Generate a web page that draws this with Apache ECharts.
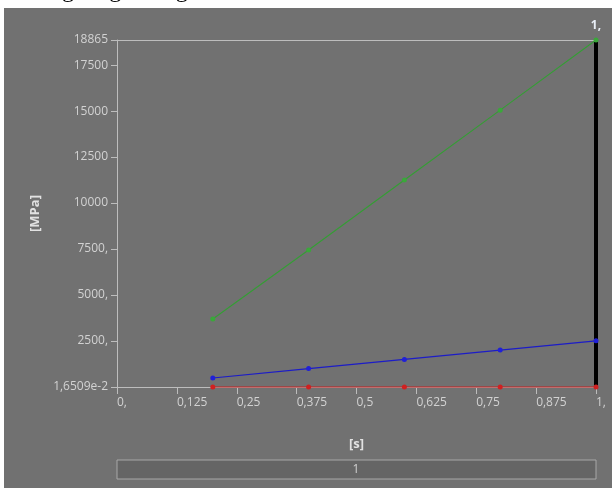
<!DOCTYPE html>
<html>
<head>
<meta charset="utf-8">
<script src="https://cdn.jsdelivr.net/npm/echarts@6/dist/echarts.min.js"></script>
<style>html,body{margin:0;padding:0;background:#fff;}#c{width:612px;height:488px;}</style>
</head>
<body>
<div id="c"></div>
<script>
var timeValues = [0.2, 0.4, 0.6, 0.8, 1.0];
var greenValues = [3700, 7450, 11250, 15050, 18865];
var blueValues = [490, 1000, 1500, 2010, 2510];
var redValues = [0.016509, 0.02, 0.02, 0.02, 0.02];
var xTickValues = [0, 0.125, 0.25, 0.375, 0.5, 0.625, 0.75, 0.875, 1];
var xTickLabels = ['0,', '0,125', '0,25', '0,375', '0,5', '0,625', '0,75', '0,875', '1,'];
var yTickValues = [0, 2500, 5000, 7500, 10000, 12500, 15000, 17500, 18865];
var yTickLabels = ['1,6509e-2', '2500,', '5000,', '7500,', '10000', '12500', '15000', '17500', '18865'];
var markerTime = 1;
var markerLabel = '1,';
var legendText = '1';

function pairs(v) { return timeValues.map(function (t, i) { return [t, v[i]]; }); }
function lookup(vals, labels, v) {
  for (var i = 0; i < vals.length; i++) { if (Math.abs(vals[i] - v) < 1e-6) return labels[i]; }
  return '';
}
var font = 'Open Sans';
var labelColor = '#d2d2d2';
var chart = echarts.init(document.getElementById('c'));
chart.setOption({
  backgroundColor: '#ffffff',
  animation: false,
  graphic: [
    { type: 'rect', z: -10, shape: { x: 4, y: 8, width: 608, height: 480 }, style: { fill: '#717171' }, silent: true },
    { type: 'text', left: -2, top: -21, style: { text: 'Khoảng tăng cường', font: '24px "Liberation Serif"', fill: '#000' } },
    { type: 'text', left: 318, top: -21, style: { text: ': 10 mm', font: '24px "Liberation Serif"', fill: '#000' } },
    { type: 'rect', shape: { x: 117, y: 460, width: 479, height: 19 }, style: { fill: '#656565', stroke: '#a8a8a8', lineWidth: 1 } },
    { type: 'text', x: 356, y: 470, style: { text: legendText, font: '12px "Open Sans"', fill: labelColor, align: 'center', verticalAlign: 'middle' } }
  ],
  grid: { left: 117, right: 16, top: 40, bottom: 101 },
  xAxis: [{
    type: 'value', min: 0, max: 1, interval: 0.125,
    name: '[s]', nameLocation: 'middle', nameGap: 51,
    nameTextStyle: { color: '#e2e2e2', fontWeight: 'bold', fontFamily: font, fontSize: 13 },
    axisLine: { show: true, lineStyle: { color: '#bdbdbd', width: 1 } },
    axisTick: { show: true, length: 7, lineStyle: { color: '#bdbdbd' } },
    axisLabel: { color: labelColor, fontFamily: font, fontSize: 12, margin: 10, align: 'left', padding: [0, 0, 0, 0],
      formatter: function (v) { return lookup(xTickValues, xTickLabels, v); } },
    splitLine: { show: false }
  }, {
    type: 'value', min: 0, max: 1, position: 'top',
    axisLine: { show: true, lineStyle: { color: '#bdbdbd', width: 1 } },
    axisTick: { show: false }, axisLabel: { show: false }, splitLine: { show: false }
  }],
  yAxis: {
    type: 'value', min: 0, max: 18865, interval: 2500,
    name: '[MPa]', nameLocation: 'middle', nameGap: 74, nameRotate: 90,
    nameTextStyle: { color: '#e2e2e2', fontWeight: 'bold', fontFamily: font, fontSize: 13 },
    axisLine: { show: true, lineStyle: { color: '#bdbdbd', width: 1 } },
    axisTick: { show: true, length: 6, lineStyle: { color: '#bdbdbd' } },
    axisLabel: { color: labelColor, fontFamily: font, fontSize: 12, margin: 9,
      showMaxLabel: true, showMinLabel: true,
      formatter: function (v) { return lookup(yTickValues, yTickLabels, v); } },
    splitLine: { show: false }
  },
  series: [
    { type: 'line', data: [], z: 1, zlevel: 0,
      markLine: { silent: true, symbol: 'none', animation: false, z: 1,
        lineStyle: { color: '#000', width: 4, type: 'solid' },
        label: { show: true, position: 'end', formatter: markerLabel, color: '#e8eef6', fontFamily: font, fontWeight: 'bold', fontSize: 12, distance: 8 },
        data: [{ xAxis: markerTime }] } },
    { type: 'line', data: pairs(greenValues), symbol: 'circle', symbolSize: 5, z: 5, zlevel: 1, clip: false, showAllSymbol: true,
      lineStyle: { color: '#349e34', width: 1.1 }, itemStyle: { color: '#3aa83a' } },
    { type: 'line', data: pairs(blueValues), symbol: 'circle', symbolSize: 5, z: 5, zlevel: 1, clip: false, showAllSymbol: true,
      lineStyle: { color: '#1c1cc8', width: 1.2 }, itemStyle: { color: '#2020d8' } },
    { type: 'line', data: pairs(redValues), symbol: 'circle', symbolSize: 5, z: 5, zlevel: 1, clip: false, showAllSymbol: true,
      lineStyle: { color: '#c81e1e', width: 1.2 }, itemStyle: { color: '#d02020' } }
  ]
});
</script>
</body>
</html>
